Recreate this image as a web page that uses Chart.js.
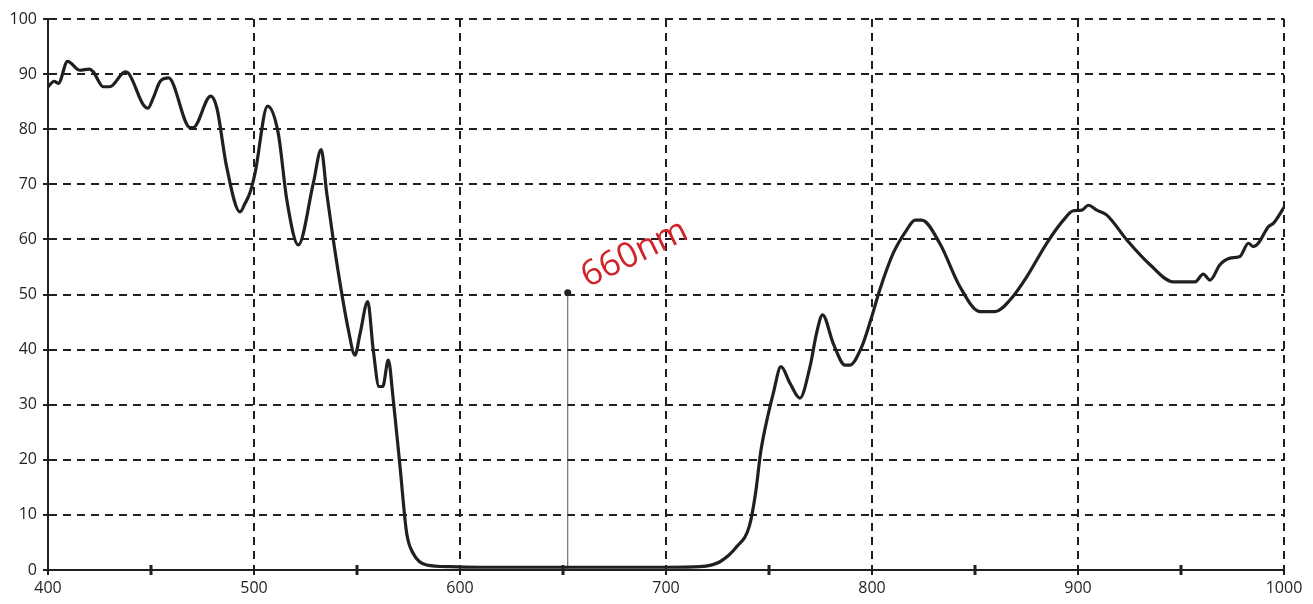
<!DOCTYPE html>
<html>
<head>
<meta charset="utf-8">
<script src="https://cdn.jsdelivr.net/npm/chart.js@4"></script>
<style>
  html, body { margin: 0; padding: 0; background: #fff; }
  #wrap { width: 1313px; height: 604px; position: relative; }
</style>
</head>
<body>
<div id="wrap"><canvas id="grafico"></canvas></div>
<script>
// Comprimento de onda (nm) e transmissão (%)
const comprimentos = [
  400, 403, 405, 409.5, 415.5, 420, 422, 426.8, 430, 437.5, 439, 446.3, 448.5, 451, 454.5, 458.5,
  469, 470.5, 479, 482, 486.7, 493.2, 495.6, 498, 500.5, 506.6, 511.8, 516, 521.5, 528.8, 532.6,
  535.3, 538.5, 542.6, 545.8, 549, 551.5, 555.2, 557.9, 560.7, 562.5, 565.2, 567.6, 570.9, 574.1,
  577.3, 583.8, 595, 610, 650, 700, 716.5, 726.2, 734.3, 740.5, 743.5, 746, 749.7, 752.1, 755.8, 760.2,
  765, 769.9, 773.1, 776, 781.2, 786.9, 789.3, 795, 799.5, 803.9, 810.3, 816.8, 820.9, 824.1, 833,
  842.7, 852.4, 859.7, 867, 875.1, 884.8, 892.9, 897.7, 901.8, 905, 909.1, 914, 923.7, 935, 946.3,
  956.8, 960.8, 964.1, 968.9, 973.8, 978.6, 982.7, 985.1, 987.5, 992.4, 994.8, 1000
];
const transmissao = [
  87.7, 88.7, 88.3, 92.3, 90.7, 90.9, 90.4, 87.7, 87.7, 90.4, 90.2, 84.4, 83.8, 85.6, 88.7, 89.3,
  80.3, 80.3, 86.0, 83.8, 73.2, 65.0, 66.5, 68.4, 72.0, 84.2, 79.2, 67, 59.0, 70.2, 76.3,
  68.4, 59.9, 50.2, 43.6, 39.0, 42.9, 48.7, 39.9, 33.3, 33.3, 38.1, 30.9, 18.7, 6.7,
  3.0, 0.9, 0.6, 0.5, 0.5, 0.5, 0.6, 1.5, 4.2, 8.0, 14.0, 21.5, 28.4, 32.1, 36.9, 33.9,
  31.2, 36.9, 43.0, 46.3, 41.1, 37.2, 37.2, 40.5, 45.5, 51.0, 57.5, 61.7, 63.5, 63.5, 59.2,
  51.4, 46.9, 46.9, 49.0, 53.2, 59.3, 63.5, 65.2, 65.3, 66.2, 65.3, 64.4, 59.9, 55.4, 52.3,
  52.3, 53.7, 52.6, 55.4, 56.6, 56.9, 59.3, 58.7, 59.3, 62.3, 62.9, 65.8
];

// Marcador de 660nm
const marcadorX = [652.3, 652.3];
const marcadorY = [0, 50.3];
const marcadorTexto = '660nm';

// Ticks dos eixos
const ticksX = [400, 500, 600, 700, 800, 900, 1000];
const ticksMenoresX = [450, 550, 650, 750, 850, 950];
const ticksY = [0, 10, 20, 30, 40, 50, 60, 70, 80, 90, 100];

const corLinha = '#231f20';
const fonte = { family: "'Open Sans', sans-serif", size: 16 };

// Ticks menores no eixo X e rótulo do marcador
const pluginExtras = {
  id: 'extras',
  afterDraw(chart) {
    const ctx = chart.ctx;
    const x = chart.scales.x;
    const y = chart.scales.y;
    const base = y.getPixelForValue(0);

    ctx.save();
    ctx.strokeStyle = corLinha;
    ctx.lineWidth = 3;
    ticksMenoresX.forEach(function(v) {
      const px = x.getPixelForValue(v);
      ctx.beginPath();
      ctx.moveTo(px, base - 5);
      ctx.lineTo(px, base + 5);
      ctx.stroke();
    });

    // Texto inclinado
    const tx = x.getPixelForValue(marcadorX[1]) + 20;
    const ty = y.getPixelForValue(marcadorY[1]) - 5;
    ctx.translate(tx, ty);
    ctx.rotate(-26 * Math.PI / 180);
    ctx.fillStyle = '#d2232a';
    ctx.font = "35px 'Open Sans', sans-serif";
    ctx.textAlign = 'left';
    ctx.textBaseline = 'alphabetic';
    ctx.fillText(marcadorTexto, 0, 0);
    ctx.restore();
  }
};

const ctx = document.getElementById('grafico');

new Chart(ctx, {
  type: 'line',
  data: {
    datasets: [
      {
        data: comprimentos.map((c, i) => ({ x: c, y: transmissao[i] })),
        borderColor: corLinha,
        borderWidth: 3.2,
        pointRadius: 0,
        fill: false,
        cubicInterpolationMode: 'monotone'
      },
      {
        data: marcadorX.map((c, i) => ({ x: c, y: marcadorY[i] })),
        borderColor: '#555555',
        borderWidth: 1,
        pointRadius: [0, 3.5],
        pointBackgroundColor: corLinha,
        pointBorderWidth: 0,
        fill: false
      }
    ]
  },
  options: {
    responsive: true,
    maintainAspectRatio: false,
    animation: false,
    events: [],
    layout: { padding: { top: 19, right: 29, left: 0, bottom: 0 } },
    plugins: {
      legend: { display: false },
      tooltip: { enabled: false }
    },
    scales: {
      x: {
        type: 'linear',
        min: 400,
        max: 1000,
        afterBuildTicks(scale) {
          scale.ticks = ticksX.map(v => ({ value: v }));
        },
        afterFit(scale) { scale.height = 34; },
        ticks: { color: corLinha, font: fonte, padding: 4, maxRotation: 0, callback: v => String(v) },
        grid: { color: corLinha, lineWidth: 2, tickLength: 5 },
        border: { color: corLinha, width: 2, dash: [8, 6] }
      },
      y: {
        min: 0,
        max: 100,
        afterBuildTicks(scale) {
          scale.ticks = ticksY.map(v => ({ value: v }));
        },
        afterFit(scale) { scale.width = 48; },
        ticks: { color: corLinha, font: fonte, padding: 6, callback: v => String(v) },
        grid: { color: corLinha, lineWidth: 2, tickLength: 5 },
        border: { color: corLinha, width: 2, dash: [8, 6] }
      }
    }
  },
  plugins: [pluginExtras]
});
</script>
</body>
</html>
